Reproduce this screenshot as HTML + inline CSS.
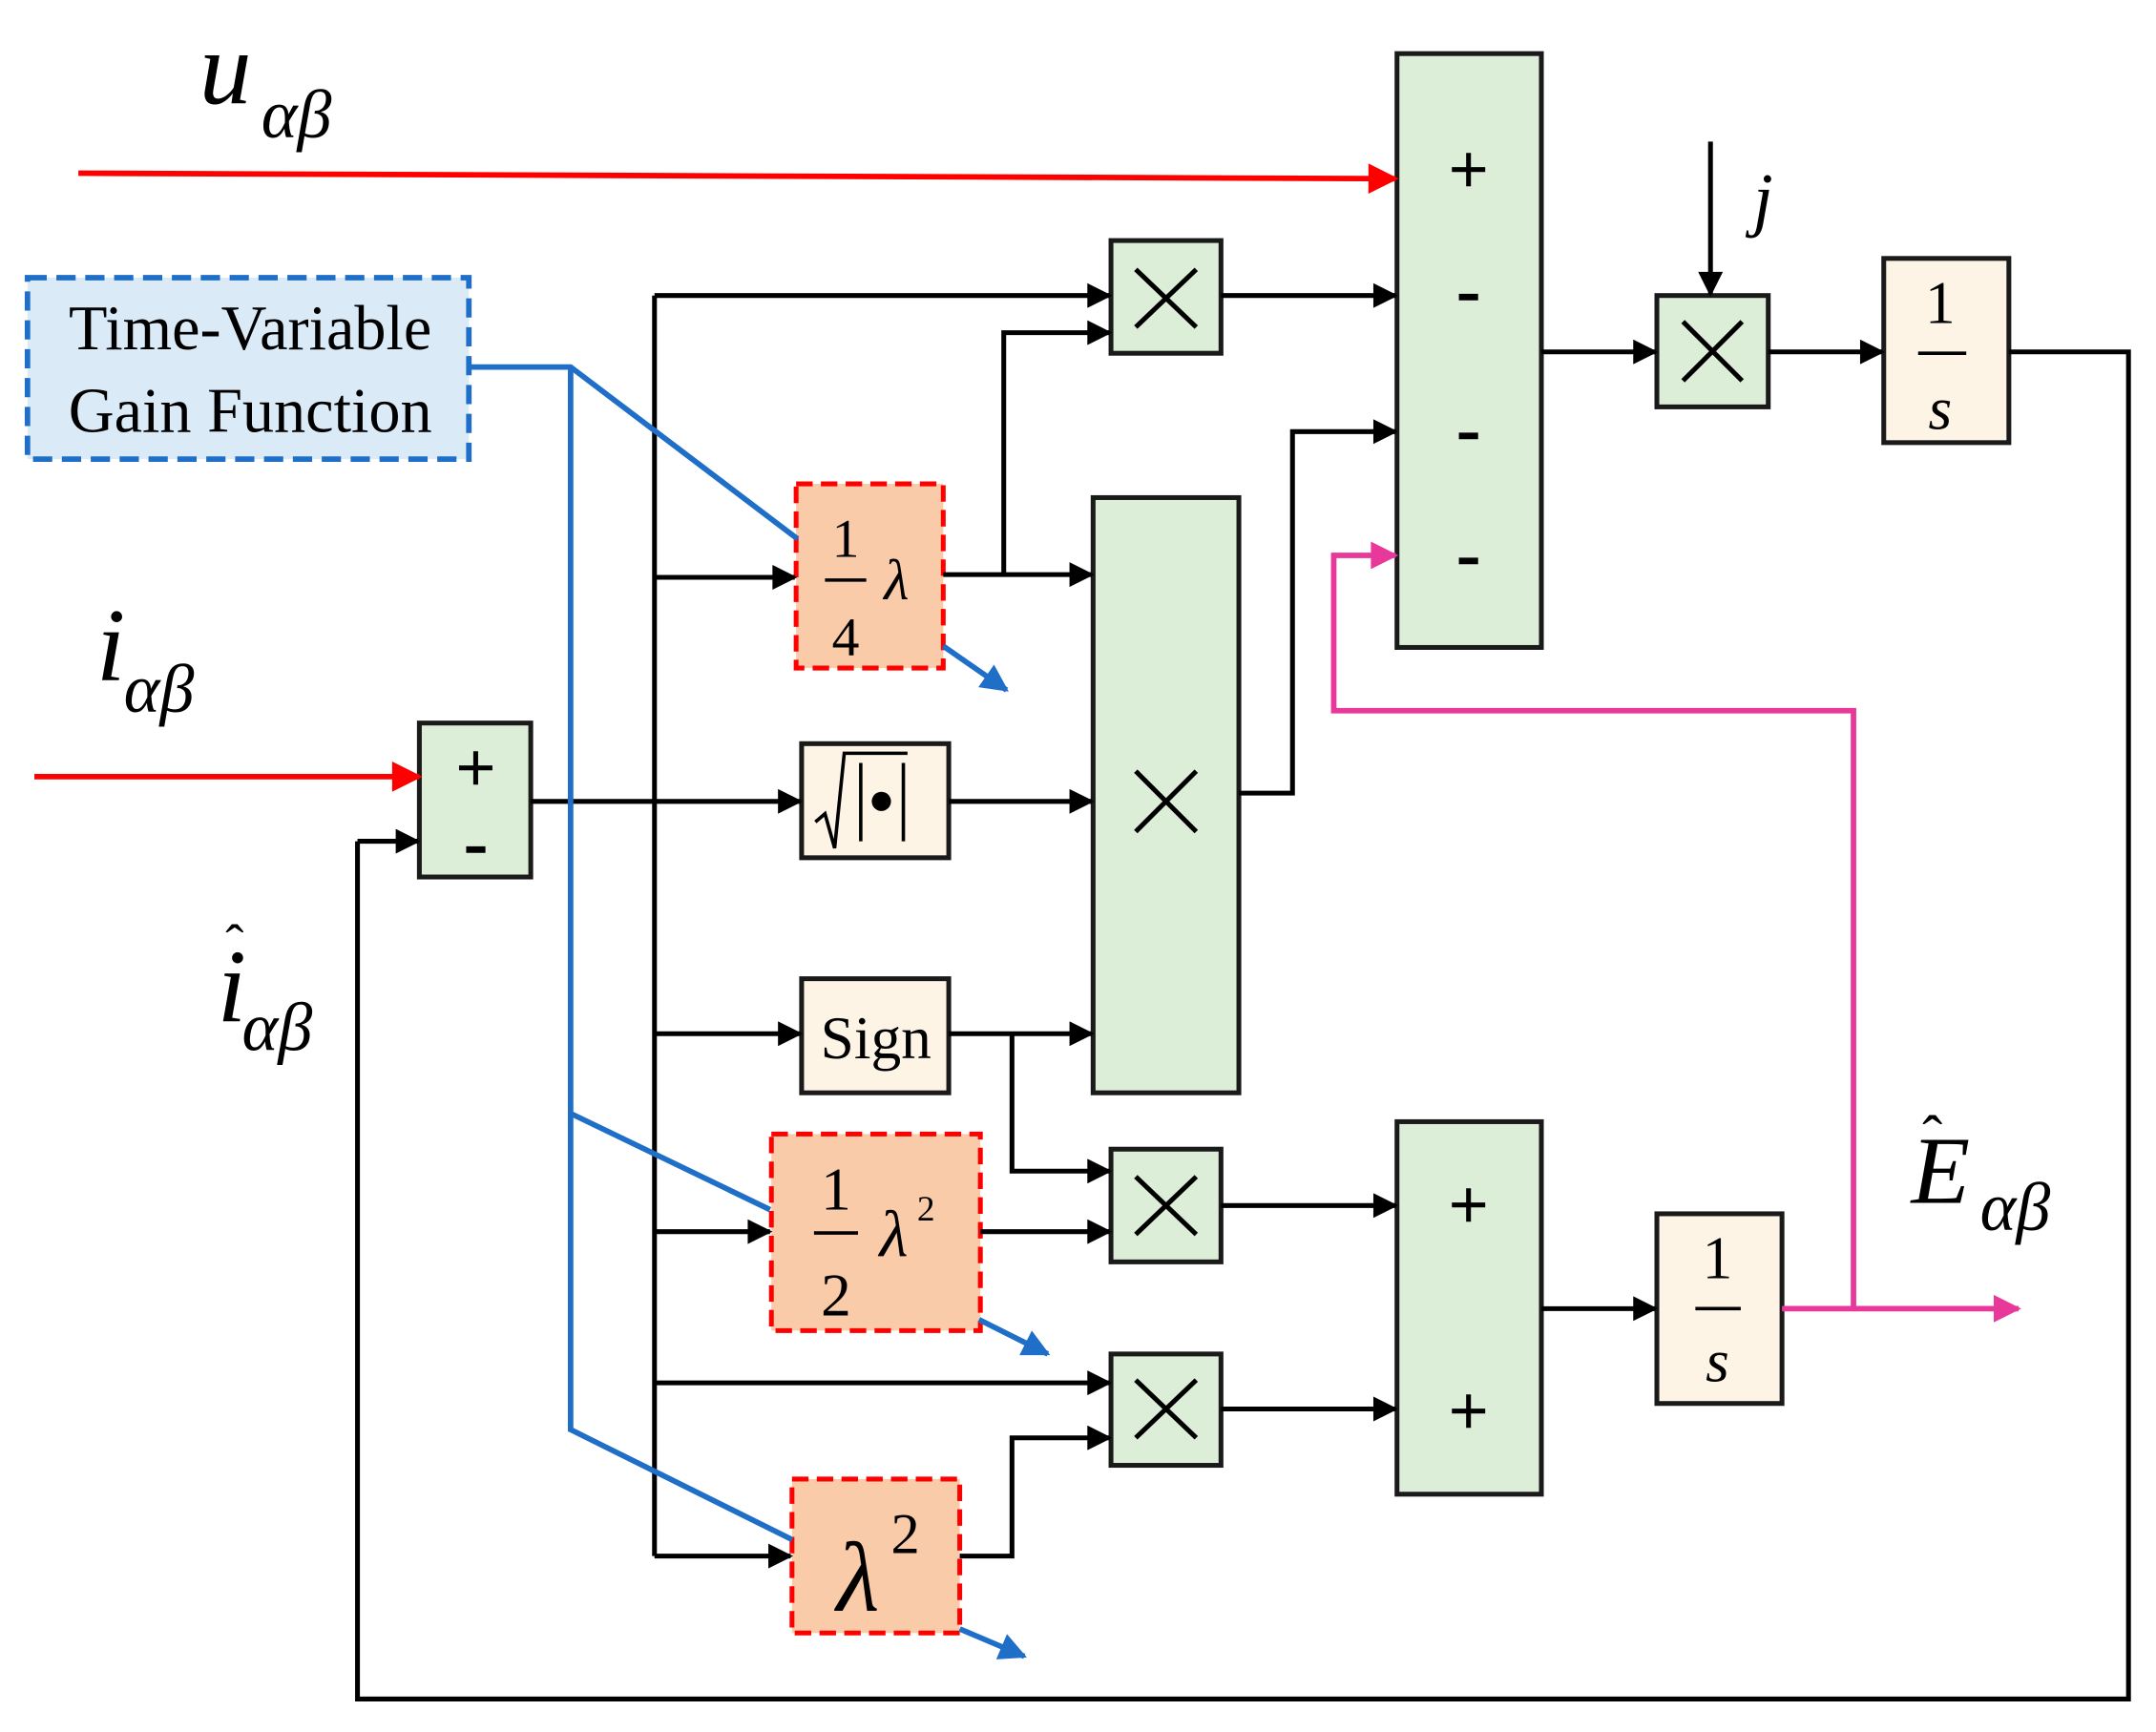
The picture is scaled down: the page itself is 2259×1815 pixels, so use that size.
<!DOCTYPE html>
<html><head><meta charset="utf-8"><style>html,body{margin:0;padding:0;background:#fff}svg{display:block}</style></head>
<body>
<svg width="2259" height="1815" viewBox="0 0 1568 1260" preserveAspectRatio="none" xmlns="http://www.w3.org/2000/svg">
<defs>
<marker id="ar" viewBox="0 0 10 10" refX="9" refY="5" markerWidth="24" markerHeight="22" orient="auto" markerUnits="userSpaceOnUse"><path d="M0,0 L10,5 L0,10z" fill="#f00"/></marker>
<marker id="ap" viewBox="0 0 10 10" refX="9" refY="5" markerWidth="24" markerHeight="20" orient="auto" markerUnits="userSpaceOnUse"><path d="M0,0 L10,5 L0,10z" fill="#e8399a"/></marker>
<marker id="ab" viewBox="0 0 10 10" refX="9" refY="5" markerWidth="24" markerHeight="20" orient="auto" markerUnits="userSpaceOnUse"><path d="M0,0 L10,5 L0,10z" fill="#1f6fc8"/></marker>
<marker id="a" viewBox="0 0 10 10" refX="9" refY="5" markerWidth="22" markerHeight="18" orient="auto" markerUnits="userSpaceOnUse"><path d="M0,0 L10,5 L0,10z" fill="#000"/></marker>
</defs>
<style>
.k{stroke:#000;stroke-width:3.5;fill:none}
.g{fill:#ddeed8;stroke:#1a1a1a;stroke-width:3.5}
.b{fill:#fdf4e6;stroke:#1a1a1a;stroke-width:3.5}
.o{fill:#f9cba8;stroke:#f00;stroke-width:3.5;stroke-dasharray:12 6}
.t{font-family:"Liberation Serif",serif;fill:#000}
.bl{stroke:#1f6fc8;stroke-width:4;fill:none}
</style>
<rect x="20" y="202" width="321" height="132" fill="#dbeaf7" stroke="#1f6fc8" stroke-width="4" stroke-dasharray="14 7"/>
<text class="t" x="182" y="254" font-size="46" text-anchor="middle">Time-Variable</text>
<text class="t" x="182" y="314" font-size="46" text-anchor="middle">Gain Function</text>

<rect class="g" x="1016" y="39" width="105" height="432"/>
<rect class="g" x="808" y="175" width="80" height="82"/>
<rect class="g" x="795" y="362" width="106" height="433"/>
<rect class="g" x="305" y="526" width="81" height="112"/>
<rect class="g" x="808" y="836" width="80" height="82"/>
<rect class="g" x="808" y="985" width="80" height="81"/>
<rect class="g" x="1016" y="816" width="105" height="271"/>
<rect class="g" x="1205" y="215" width="81" height="81"/>
<rect class="b" x="583" y="541" width="107" height="83"/>
<rect class="b" x="583" y="712" width="107" height="83"/>
<rect class="b" x="1370" y="188" width="91" height="134"/>
<rect class="b" x="1205" y="883" width="91" height="138"/>
<rect class="o" x="579" y="352" width="107" height="134"/>
<rect class="o" x="561" y="825" width="152" height="143"/>
<rect class="o" x="576" y="1076" width="122" height="112"/>

<g stroke="#000" stroke-width="3.5">
<path d="M826,196 L870,238 M870,196 L826,238"/>
<path d="M826,561 L870,605 M870,561 L826,605"/>
<path d="M826,856 L870,898 M870,856 L826,898"/>
<path d="M826,1004 L870,1046 M870,1004 L826,1046"/>
<path d="M1224,234 L1267,277 M1267,234 L1224,277"/>
</g>

<g class="t" font-size="50" text-anchor="middle" font-family="Liberation Sans,sans-serif" stroke="#000" stroke-width="1">
<text x="1068" y="140">+</text><text x="1068" y="228">-</text><text x="1068" y="329">-</text><text x="1068" y="420">-</text>
<text x="346" y="575">+</text><text x="346" y="630">-</text>
<text x="1068" y="893">+</text><text x="1068" y="1043">+</text>
</g>

<g class="t">
<text x="615" y="405" font-size="40" text-anchor="middle">1</text>
<line x1="600" y1="422" x2="630" y2="422" stroke="#000" stroke-width="2.5"/>
<text x="615" y="477" font-size="40" text-anchor="middle">4</text>
<text x="652" y="436" font-size="42" font-style="italic" text-anchor="middle">λ</text>

<text x="608" y="880" font-size="44" text-anchor="middle">1</text>
<line x1="592" y1="897" x2="624" y2="897" stroke="#000" stroke-width="2.5"/>
<text x="608" y="957" font-size="44" text-anchor="middle">2</text>
<text x="650" y="914" font-size="48" font-style="italic" text-anchor="middle">λ</text>
<text x="667" y="888" font-size="26">2</text>

<text x="624" y="1172" font-size="72" font-style="italic" text-anchor="middle">λ</text>
<text x="648" y="1130" font-size="42">2</text>

<text x="637" y="770" font-size="44" text-anchor="middle">Sign</text>
<path d="M593,598 L600,592 L607,617 L614,548 L660,548" stroke="#000" stroke-width="2.5" fill="none"/>
<line x1="626" y1="555" x2="626" y2="612" stroke="#000" stroke-width="2.5"/>
<line x1="657" y1="555" x2="657" y2="612" stroke="#000" stroke-width="2.5"/>
<circle cx="641" cy="583" r="7" fill="#000"/>

<text x="1411" y="235" font-size="44" text-anchor="middle">1</text>
<line x1="1395" y1="257" x2="1430" y2="257" stroke="#000" stroke-width="2.5"/>
<text x="1411" y="312" font-size="44" font-style="italic" text-anchor="middle">s</text>
<text x="1249" y="930" font-size="44" text-anchor="middle">1</text>
<line x1="1233" y1="952" x2="1266" y2="952" stroke="#000" stroke-width="2.5"/>
<text x="1249" y="1005" font-size="44" font-style="italic" text-anchor="middle">s</text>

<text x="145" y="75" font-size="76" font-style="italic">u</text>
<text x="190" y="100" font-size="50" font-style="italic">αβ</text>
<text x="70" y="495" font-size="76" font-style="italic">i</text>
<text x="90" y="518" font-size="50" font-style="italic">αβ</text>
<text x="158" y="743" font-size="76" font-style="italic">i</text>
<text x="164" y="700" font-size="40">ˆ</text>
<text x="176" y="764" font-size="50" font-style="italic">αβ</text>
<text x="1390" y="875" font-size="70" font-style="italic">E</text>
<text x="1398" y="842" font-size="44">ˆ</text>
<text x="1440" y="895" font-size="50" font-style="italic">αβ</text>
<text x="1275" y="162" font-size="52" font-style="italic">j</text>
</g>

<line x1="57" y1="126" x2="1015" y2="130" stroke="#f00" stroke-width="4" marker-end="url(#ar)"/>
<line x1="25" y1="565" x2="305" y2="565" stroke="#f00" stroke-width="4" marker-end="url(#ar)"/>

<g class="k">
<path d="M386,583 H476"/>
<path d="M476,215 V1132"/>
<path d="M476,215 H807" marker-end="url(#a)"/>
<path d="M730,418 V242 H807" marker-end="url(#a)"/>
<path d="M888,215 H1015" marker-end="url(#a)"/>
<path d="M476,420 H578" marker-end="url(#a)"/>
<path d="M686,418 H794" marker-end="url(#a)"/>
<path d="M901,577 H940 V314 H1015" marker-end="url(#a)"/>
<path d="M476,583 H582" marker-end="url(#a)"/>
<path d="M690,583 H794" marker-end="url(#a)"/>
<path d="M260,612 H304" marker-end="url(#a)"/>
<path d="M260,612 V1236 H1548 V256 H1461"/>
<path d="M476,752 H582" marker-end="url(#a)"/>
<path d="M690,752 H794" marker-end="url(#a)"/>
<path d="M736,752 V852 H807" marker-end="url(#a)"/>
<path d="M476,896 H560" marker-end="url(#a)"/>
<path d="M713,896 H807" marker-end="url(#a)"/>
<path d="M888,877 H1015" marker-end="url(#a)"/>
<path d="M476,1006 H807" marker-end="url(#a)"/>
<path d="M698,1132 H736 V1046 H807" marker-end="url(#a)"/>
<path d="M476,1132 H575" marker-end="url(#a)"/>
<path d="M888,1025 H1015" marker-end="url(#a)"/>
<path d="M1121,952 H1204" marker-end="url(#a)"/>
<path d="M1121,256 H1204" marker-end="url(#a)"/>
<path d="M1244,103 V214" marker-end="url(#a)"/>
<path d="M1286,256 H1369" marker-end="url(#a)"/>
</g>

<g stroke="#e8399a" stroke-width="4" fill="none">
<path d="M1296,952 H1468" marker-end="url(#ap)"/>
<path d="M1348,952 V517 H970 V404 H1015" marker-end="url(#ap)"/>
</g>

<g class="bl">
<path d="M341,267 H415 L580,392"/>
<path d="M415,267 V1040 L576,1120"/>
<path d="M415,810 L560,880"/>
<path d="M686,470 L732,502" marker-end="url(#ab)"/>
<path d="M712,960 L762,985" marker-end="url(#ab)"/>
<path d="M698,1185 L745,1205" marker-end="url(#ab)"/>
</g>
</svg>
</body></html>
